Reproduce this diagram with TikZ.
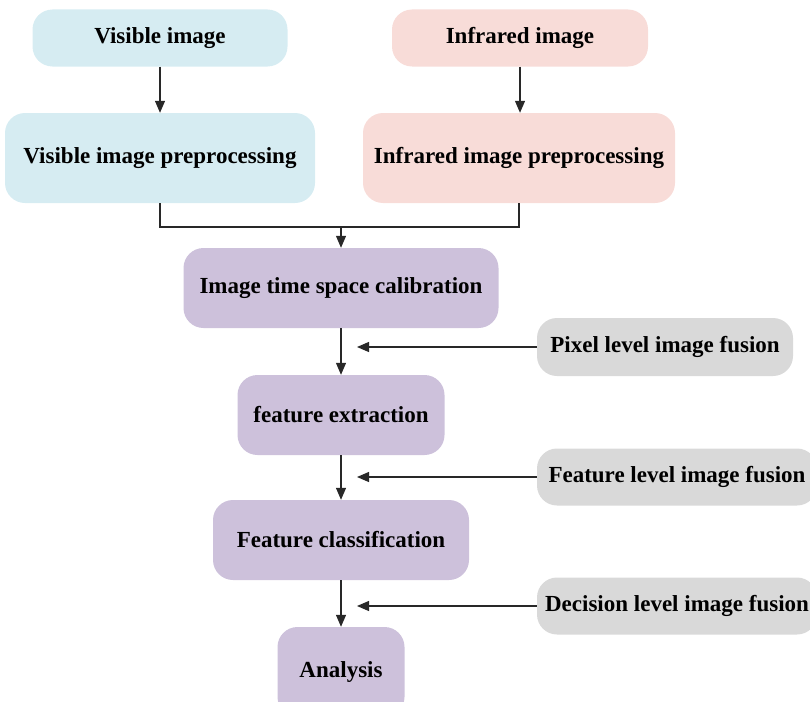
\documentclass[tikz,border=0pt]{standalone}
\usepackage{fontspec}
\setmainfont{Liberation Serif}
\usetikzlibrary{arrows.meta}
\definecolor{visblue}{RGB}{214,236,242}
\definecolor{irpink}{RGB}{248,220,216}
\definecolor{steppurple}{RGB}{205,193,219}
\definecolor{fusegray}{RGB}{217,217,217}
\definecolor{linegray}{RGB}{40,40,40}

\begin{document}
\begin{tikzpicture}[x=1pt,y=-1pt,
	box/.style={rounded corners=20pt, align=center, inner sep=0pt, font=\fontsize{23}{26}\selectfont\bfseries},
	visbox/.style={box, fill=visblue},
	irbox/.style={box, fill=irpink},
	stepbox/.style={box, fill=steppurple},
	fusebox/.style={box, fill=fusegray},
	link/.style={draw=linegray, line width=1.2pt, -{Triangle[length=12pt,width=10pt]}}]
	\useasboundingbox (0,0) rectangle (810,701);
	% input branches
	\node[visbox, minimum width=255pt, minimum height=57pt] (vis) at (160,38) {Visible image};
	\node[visbox, minimum width=310pt, minimum height=90pt] (visp) at (160,158) {Visible image preprocessing};
	\node[irbox, minimum width=256pt, minimum height=57pt] (ir) at (520,38) {Infrared image};
	\node[irbox, minimum width=312pt, minimum height=90pt] (irp) at (519,158) {Infrared image preprocessing};
	% main chain
	\node[stepbox, minimum width=315pt, minimum height=80pt] (cal) at (341,288) {Image time space calibration};
	\node[stepbox, minimum width=207pt, minimum height=80pt] (fe) at (341,415) {feature extraction};
	\node[stepbox, minimum width=256pt, minimum height=80pt] (fc) at (341,540) {Feature classification};
	\node[stepbox, minimum width=127pt, minimum height=90pt] (an) at (341,672) {Analysis};
	% fusion levels
	\node[fusebox, minimum width=256pt, minimum height=58pt] (pix) at (665,347) {Pixel level image fusion};
	\node[fusebox, minimum width=280pt, minimum height=57pt] (fea) at (677,477) {Feature level image fusion};
	\node[fusebox, minimum width=280pt, minimum height=57pt] (dec) at (677,606) {Decision level image fusion};
	\coordinate (mrg) at (341,227);
	\coordinate (pixend) at (357,347);
	\coordinate (feaend) at (357,477);
	\coordinate (decend) at (357,606);
	% connectors
	\draw[link] (vis) -- (visp);
	\draw[link] (ir) -- (irp.north -| ir);
	\draw[draw=linegray, line width=1.2pt] (visp.south) |- (mrg) -| (irp.south);
	\draw[link] (mrg) -- (cal);
	\draw[link] (cal) -- (fe);
	\draw[link] (fe) -- (fc);
	\draw[link] (fc) -- (an);
	\draw[link] (pix) -- (pixend);
	\draw[link] (fea.west) -- (feaend);
	\draw[link] (dec.west) -- (decend);
\end{tikzpicture}
\end{document}
